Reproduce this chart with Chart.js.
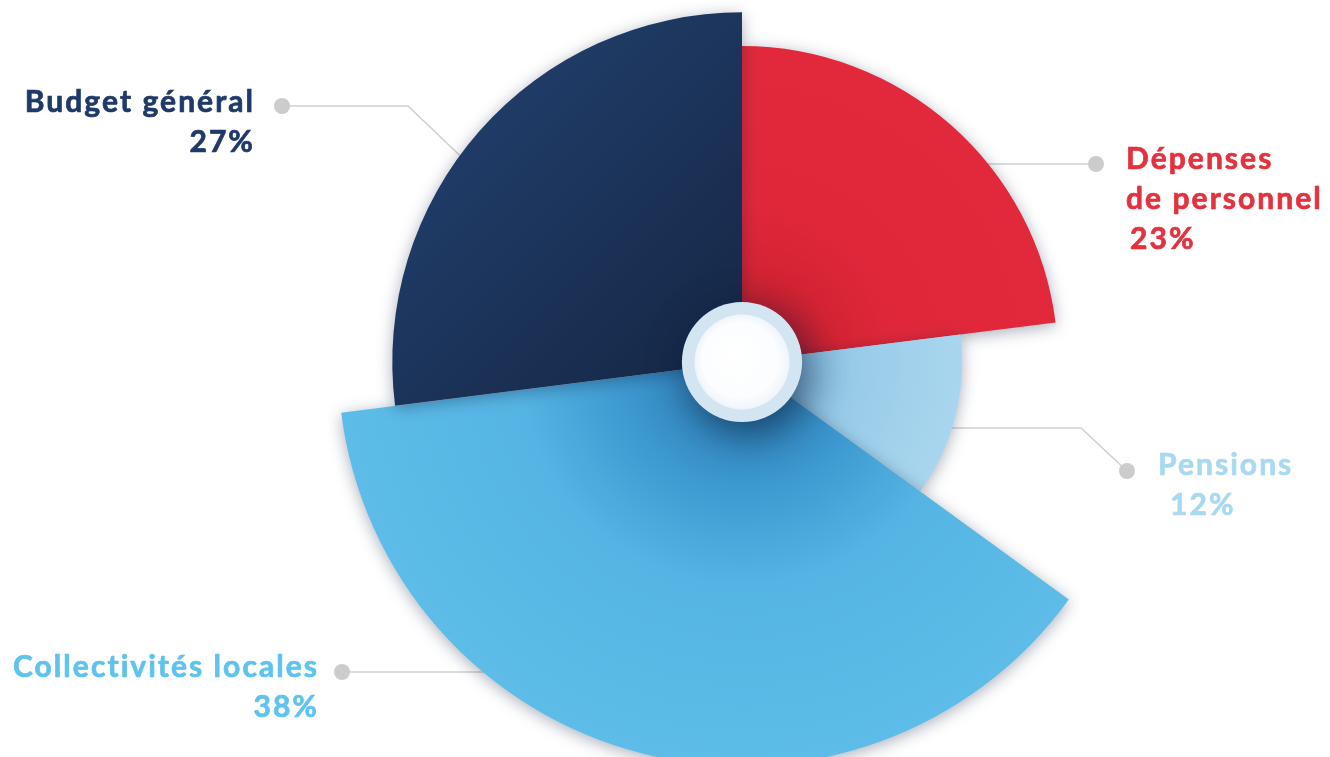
<!DOCTYPE html>
<html><head><meta charset="utf-8">
<script src="https://cdn.jsdelivr.net/npm/chart.js@4.4.0/dist/chart.umd.min.js"></script>
<style>
html,body{margin:0;padding:0;background:#fff;width:1330px;height:757px;overflow:hidden;}
#wrap{position:relative;width:1330px;height:757px;}
#c{position:absolute;left:0;top:0;}
.lbl{position:absolute;font-family:Lato,"Open Sans",sans-serif;font-weight:700;font-size:30px;line-height:40px;letter-spacing:2.05px;-webkit-text-stroke:0.7px currentColor;white-space:nowrap;}
.r{text-align:right;}
</style></head>
<body><div id="wrap"><canvas id="c" width="1330" height="757"></canvas>
<div class="lbl r" style="right:1075px;top:80px;color:#1f3a68">Budget général<br>27%</div>
<div class="lbl" style="left:1126px;top:137px;color:#e3323f">Dépenses<br>de personnel<br><span style="padding-left:4px">23%</span></div>
<div class="lbl" style="left:1158px;top:443px;color:#a9d9f0">Pensions<br><span style="padding-left:12px">12%</span></div>
<div class="lbl r" style="right:1011px;top:645px;color:#5ec3ee">Collectivités locales<br>38%</div>
</div>
<script>
// ---- data ----
const categories = ['Dépenses de personnel', 'Pensions', 'Collectivités locales', 'Budget général'];
const shares = [23, 12, 38, 27];               // percent -> slice angle
const radiusWeights = [87.3, 60.8, 111.6, 96.6]; // visual slice length (scale 0-100)
const sliceColors = ['#e2283a', '#a6d4ec', '#5cbce7', '#1e3663'];

function sliceFill(c) {
  const chart = c.chart, s = chart.scales.r, ctx = chart.ctx;
  const i = c.dataIndex;
  if (!s || !s.drawingArea) return sliceColors[i];
  const x = s.xCenter, y = s.yCenter, R = s.getDistanceFromCenterForValue(radiusWeights[i]);
  let g;
  if (i === 0) {
    g = ctx.createRadialGradient(x, y, 0, x, y, R);
    g.addColorStop(0, '#a51b29'); g.addColorStop(0.3, '#d42434'); g.addColorStop(0.5, '#e0273a'); g.addColorStop(1, '#e2293b');
  } else if (i === 1) {
    g = ctx.createRadialGradient(x, y, 0, x, y, R);
    g.addColorStop(0, '#6eaed6'); g.addColorStop(0.5, '#98cbe8'); g.addColorStop(1, '#a9d6ee');
  } else if (i === 2) {
    g = ctx.createRadialGradient(x, y, 0, x, y, R);
    g.addColorStop(0, '#2a78ae'); g.addColorStop(0.3, '#3c98cf'); g.addColorStop(0.55, '#55b4e3'); g.addColorStop(1, '#5dbde8');
  } else {
    g = ctx.createLinearGradient(x - R * 0.9, y - R * 0.9, x, y);
    g.addColorStop(0, '#22416f'); g.addColorStop(1, '#152745');
  }
  return g;
}

const leaderLines = {
  id: 'leaders',
  beforeDatasetsDraw(chart) {
    const ctx = chart.ctx;
    const paths = [
      [[282, 106], [408, 106], [475, 170]],
      [[1096, 164], [950, 164]],
      [[1127, 471], [1081, 428], [930, 428]],
      [[342, 672], [530, 672]]
    ];
    ctx.save();
    ctx.strokeStyle = '#cfcfcf'; ctx.lineWidth = 1.5;
    paths.forEach(p => {
      ctx.beginPath(); ctx.moveTo(p[0][0], p[0][1]);
      for (let k = 1; k < p.length; k++) ctx.lineTo(p[k][0], p[k][1]);
      ctx.stroke();
      ctx.beginPath(); ctx.fillStyle = '#cccccc'; ctx.arc(p[0][0], p[0][1], 8, 0, Math.PI * 2); ctx.fill();
    });
    ctx.restore();
    ctx.save();
    ctx.shadowColor = 'rgba(10,25,60,0.35)';
    ctx.shadowBlur = 16;
    ctx.shadowOffsetY = 3;
  },
  afterDatasetsDraw(chart) {
    const ctx = chart.ctx;
    ctx.restore();
    const s = chart.scales.r, x = s.xCenter, y = s.yCenter, D = s.drawingArea;
    const ro = D * 0.166, ri = D * 0.131;
    ctx.save();
    ctx.beginPath(); ctx.arc(x, y, ro, 0, Math.PI * 2);
    ctx.shadowColor = 'rgba(5,20,50,0.6)'; ctx.shadowBlur = 40; ctx.shadowOffsetX = 8; ctx.shadowOffsetY = 12;
    ctx.fillStyle = '#d2e5f1'; ctx.fill();
    ctx.restore();
    ctx.save();
    const g = ctx.createRadialGradient(x - 10, y - 10, 0, x, y, ri);
    g.addColorStop(0, '#ffffff'); g.addColorStop(0.8, '#fbfdfe'); g.addColorStop(1, '#eef5fa');
    ctx.beginPath(); ctx.arc(x, y, ri, 0, Math.PI * 2); ctx.fillStyle = g; ctx.fill();
    ctx.restore();
  }
};

new Chart(document.getElementById('c'), {
  type: 'polarArea',
  data: {
    labels: categories,
    datasets: [{
      data: radiusWeights,
      angle: c => shares[c.dataIndex] * 3.6,
      backgroundColor: sliceFill,
      borderWidth: 0,
      clip: false
    }]
  },
  options: {
    responsive: false,
    animation: false,
    layout: { padding: { left: 154, right: 0, top: 0, bottom: 33 } },
    plugins: { legend: { display: false }, tooltip: { enabled: false } },
    scales: {
      r: {
        min: 0, max: 100,
        ticks: { display: false },
        grid: { display: false },
        angleLines: { display: false },
        pointLabels: { display: false }
      }
    }
  },
  plugins: [leaderLines]
});
</script>
</body></html>
